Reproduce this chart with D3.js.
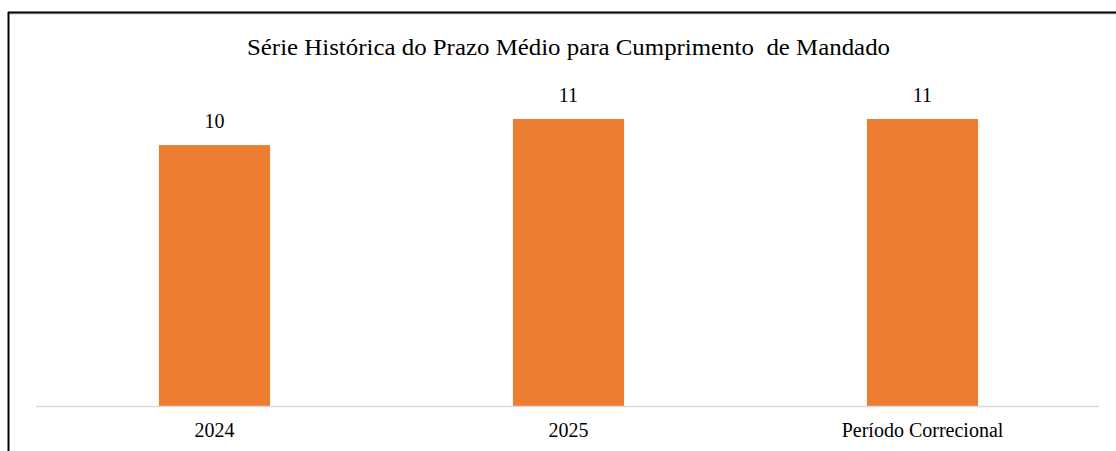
<!DOCTYPE html>
<html><head><meta charset="utf-8">
<script src="https://cdn.jsdelivr.net/npm/d3@7"></script>
<style>html,body{margin:0;padding:0;background:#fff;}svg{display:block;}</style>
</head><body>
<script>
const categories = ["2024", "2025", "Período Correcional"];
const values = [10, 11, 11];
const title = "Série Histórica do Prazo Médio para Cumprimento  de Mandado";

const W = 1116, H = 451;
const svg = d3.select("body").append("svg").attr("width", W).attr("height", H);
const font = "'Liberation Serif','Times New Roman',serif";

// frame
svg.append("line").attr("x1", 9).attr("x2", W).attr("y1", 14).attr("y2", 14).attr("stroke", "#bfbfbf").attr("stroke-width", 1);
svg.append("line").attr("x1", 8).attr("x2", W).attr("y1", 12.5).attr("y2", 12.5).attr("stroke", "#000").attr("stroke-width", 2);
svg.append("line").attr("x1", 8.5).attr("x2", 8.5).attr("y1", 12).attr("y2", H).attr("stroke", "#000").attr("stroke-width", 2);

const x = d3.scaleBand().domain(categories).range([37.5, 1099.5]).paddingInner(0.686).paddingOuter(0.343);
const y = d3.scaleLinear().domain([0, 11]).range([406, 119]);

svg.append("text").attr("x", 568.5).attr("y", 55).attr("text-anchor", "middle")
  .style("white-space", "pre").attr("xml:space", "preserve")
  .attr("font-family", font).attr("font-size", 23).attr("fill", "#000")
  .attr("textLength", 643).attr("lengthAdjust", "spacingAndGlyphs").text(title);

svg.selectAll("rect.bar").data(values).enter().append("rect").attr("class", "bar")
  .attr("x", (d, i) => x(categories[i])).attr("width", x.bandwidth())
  .attr("y", d => y(d)).attr("height", d => y(0) - y(d)).attr("fill", "#ED7D31");

// baseline axis
const ax = svg.append("g").attr("transform", `translate(0,${y(0)})`)
  .call(d3.axisBottom(x).tickSize(0).tickPadding(0));
ax.select(".domain").attr("stroke", "#d9d9d9").attr("stroke-width", 1.5).attr("d", "M36,0.5H1099");
ax.selectAll("text").attr("font-family", font).attr("font-size", 20).attr("fill", "#000")
  .attr("dy", null).attr("y", 31);

svg.selectAll("text.val").data(values).enter().append("text").attr("class", "val")
  .attr("x", (d, i) => x(categories[i]) + x.bandwidth() / 2).attr("y", d => y(d) - 17)
  .attr("text-anchor", "middle").attr("font-family", font).attr("font-size", 20).attr("fill", "#000")
  .text(d => d);
</script>
</body></html>
